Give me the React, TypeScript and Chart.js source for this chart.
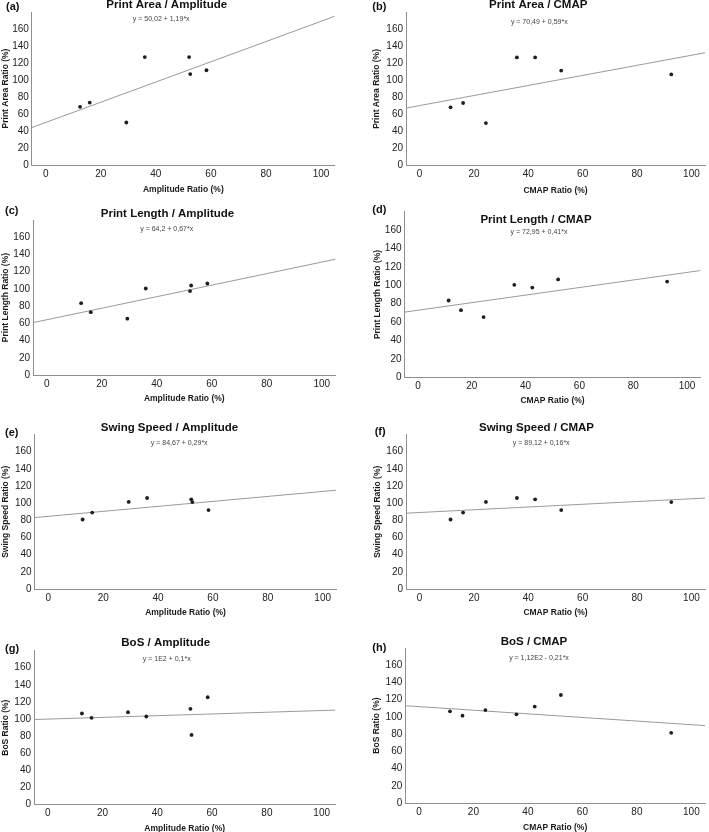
import React, { useEffect, useRef } from "react";
import { Chart, registerables } from "chart.js";

Chart.register(...registerables);

// ---------- data ----------
const panelLabels = ["(a)", "(b)", "(c)", "(d)", "(e)", "(f)", "(g)", "(h)"];
const panelTitles = [
  "Print Area / Amplitude",
  "Print Area / CMAP",
  "Print Length / Amplitude",
  "Print Length / CMAP",
  "Swing Speed / Amplitude",
  "Swing Speed / CMAP",
  "BoS / Amplitude",
  "BoS / CMAP",
];
const xAxisTitles = [
  "Amplitude Ratio (%)",
  "CMAP Ratio (%)",
  "Amplitude Ratio (%)",
  "CMAP Ratio (%)",
  "Amplitude Ratio (%)",
  "CMAP Ratio (%)",
  "Amplitude Ratio (%)",
  "CMAP Ratio (%)",
];
const yAxisTitles = [
  "Print Area Ratio (%)",
  "Print Area Ratio (%)",
  "Print Length Ratio (%)",
  "Print Length Ratio (%)",
  "Swing Speed Ratio (%)",
  "Swing Speed Ratio (%)",
  "BoS Ratio (%)",
  "BoS Ratio (%)",
];
const equations = [
  "y = 50,02 + 1,19*x",
  "y = 70,49 + 0,59*x",
  "y = 64,2 + 0,67*x",
  "y = 72,95 + 0,41*x",
  "y = 84,67 + 0,29*x",
  "y = 89,12 + 0,16*x",
  "y = 1E2 + 0,1*x",
  "y = 1,12E2 - 0,21*x",
];
const intercepts = [50.02, 70.49, 64.2, 72.95, 84.67, 89.12, 100, 112];
const slopes = [1.19, 0.59, 0.67, 0.41, 0.29, 0.16, 0.1, -0.21];

// one entry per subject
const amplitudeRatio = [12.5, 16, 29.3, 36, 52.1, 52.5, 58.4];
const cmapRatio = [11.4, 16, 24.4, 35.8, 42.5, 92.6, 52.1];
const printAreaRatio = [68.5, 73.5, 50, 127, 127, 107, 111.5];
const printLengthRatio = [83.5, 73, 65.5, 100.5, 97.5, 104, 106.3];
const swingSpeedRatio = [81, 89, 101.5, 106, 104.5, 101.3, 92];
const bosRatio = [106.5, 101.5, 108, 103, 112, 81.5, 125.5];

const xTickValues = [0, 20, 40, 60, 80, 100];
const yTickValues = [0, 20, 40, 60, 80, 100, 120, 140, 160];
const xMin = -5;
const xMax = 105;
const yMin = 0;
const yMax = 180;

const panelX = [amplitudeRatio, cmapRatio, amplitudeRatio, cmapRatio, amplitudeRatio, cmapRatio, amplitudeRatio, cmapRatio];
const panelY = [printAreaRatio, printAreaRatio, printLengthRatio, printLengthRatio, swingSpeedRatio, swingSpeedRatio, bosRatio, bosRatio];

// ---------- layout (page pixels) ----------
type Spec = {
  left: number; top: number; width: number;
  chartLeft: number; chartRight: number; chartTop: number; chartBottom: number;
  yTitleX: number; xTitleY: number;
  titleX: number; titleY: number; labelX: number; labelY: number; eqX: number; eqY: number;
};
const layouts: Spec[] = [
  { left: 0, top: 0, width: 354, chartLeft: 31.9, chartRight: 334.8, chartTop: 12, chartBottom: 165, yTitleX: 5.2, xTitleY: 189, titleX: 166.7, titleY: 5, labelX: 6, labelY: 7.2, eqX: 161.2, eqY: 19 },
  { left: 354, top: 0, width: 355, chartLeft: 406, chartRight: 708.5, chartTop: 12.2, chartBottom: 165.7, yTitleX: 376.7, xTitleY: 190, titleX: 538.2, titleY: 5, labelX: 372.3, labelY: 7.2, eqX: 539.3, eqY: 22 },
  { left: 0, top: 198, width: 354, chartLeft: 33, chartRight: 335.5, chartTop: 220.1, chartBottom: 375, yTitleX: 5.2, xTitleY: 398.3, titleX: 167.5, titleY: 214, labelX: 5, labelY: 210.8, eqX: 166.7, eqY: 229.3 },
  { left: 354, top: 198, width: 355, chartLeft: 404.5, chartRight: 700.5, chartTop: 211.5, chartBottom: 377.5, yTitleX: 377.3, xTitleY: 400, titleX: 536, titleY: 219.7, labelX: 372.3, labelY: 210.2, eqX: 539, eqY: 232.3 },
  { left: 0, top: 408, width: 354, chartLeft: 34.6, chartRight: 336.4, chartTop: 434.5, chartBottom: 589, yTitleX: 6, xTitleY: 612.3, titleX: 169.5, titleY: 427.8, labelX: 5, labelY: 433, eqX: 179.2, eqY: 442.7 },
  { left: 354, top: 408, width: 355, chartLeft: 406, chartRight: 708.5, chartTop: 434.5, chartBottom: 589, yTitleX: 377.3, xTitleY: 612.3, titleX: 536.5, titleY: 427.8, labelX: 374.7, labelY: 432.2, eqX: 541.2, eqY: 442.7 },
  { left: 0, top: 615, width: 354, chartLeft: 34, chartRight: 335.4, chartTop: 650.6, chartBottom: 804.7, yTitleX: 5.2, xTitleY: 828, titleX: 165.7, titleY: 643.3, labelX: 5, labelY: 649.2, eqX: 166.7, eqY: 659.3 },
  { left: 354, top: 615, width: 355, chartLeft: 405.3, chartRight: 707, chartTop: 648.1, chartBottom: 803, yTitleX: 376.7, xTitleY: 827.7, titleX: 534, titleY: 642, labelX: 372.3, labelY: 648.2, eqX: 539, eqY: 657.7 },
];

const FONT = '"Liberation Sans", Arial, Helvetica, sans-serif';
const AXIS_TITLE_SIZE = 8.5;
const LH = AXIS_TITLE_SIZE * 1.2;

function canvasHeight(s: Spec) {
  return Math.ceil(s.xTitleY + LH / 2 - s.top);
}

function Panel({ idx }: { idx: number }) {
  const ref = useRef<HTMLCanvasElement>(null);
  const s = layouts[idx];
  const H = canvasHeight(s);

  useEffect(() => {
    if (!ref.current) return;
    const padLeft = Math.max(0, s.yTitleX - s.left - LH / 2);
    const yAxisW = s.chartLeft - s.left - padLeft;
    const padRight = Math.max(0, s.left + s.width - s.chartRight);
    const padTop = s.chartTop - s.top;
    const xAxisH = H - (s.chartBottom - s.top);

    const a = intercepts[idx];
    const b = slopes[idx];
    const xs = panelX[idx];
    const ys = panelY[idx];

    const textPlugin = {
      id: "panelText" + idx,
      afterDraw(chart: any) {
        const ctx = chart.ctx as CanvasRenderingContext2D;
        ctx.save();
        ctx.fillStyle = "#111";
        ctx.textBaseline = "middle";
        ctx.font = `bold 11.5px ${FONT}`;
        ctx.textAlign = "center";
        ctx.fillText(panelTitles[idx], s.titleX - s.left, s.titleY - s.top);
        ctx.font = `bold 11px ${FONT}`;
        ctx.textAlign = "left";
        ctx.fillText(panelLabels[idx], s.labelX - s.left, s.labelY - s.top);
        ctx.font = `7px ${FONT}`;
        ctx.fillStyle = "#444";
        ctx.textAlign = "center";
        ctx.fillText(equations[idx], s.eqX - s.left, s.eqY - s.top);
        ctx.restore();
      },
    };

    const chart = new Chart(ref.current, {
      type: "scatter",
      data: {
        datasets: [
          {
            type: "line",
            data: [
              { x: xMin, y: a + b * xMin },
              { x: xMax, y: a + b * xMax },
            ],
            borderColor: "#9a9a9a",
            borderWidth: 1,
            pointRadius: 0,
            fill: false,
            order: 2,
          } as any,
          {
            type: "scatter",
            data: xs.map((x, i) => ({ x, y: ys[i] })),
            backgroundColor: "#1e1e1e",
            borderColor: "#1e1e1e",
            borderWidth: 0,
            pointRadius: 1.9,
            order: 1,
          },
        ],
      },
      options: {
        animation: false,
        responsive: false,
        devicePixelRatio: 1,
        layout: { padding: { left: padLeft, right: padRight, top: padTop, bottom: 0 } },
        plugins: { legend: { display: false }, tooltip: { enabled: false }, title: { display: false } },
        scales: {
          x: {
            type: "linear",
            min: xMin,
            max: xMax,
            afterBuildTicks: (sc: any) => {
              sc.ticks = xTickValues.map((v) => ({ value: v }));
            },
            afterFit: (sc: any) => {
              sc.height = xAxisH;
            },
            grid: { display: false, drawTicks: false },
            border: { display: true, color: "#8f8f8f", width: 1 },
            ticks: { padding: 3, color: "#222", font: { family: FONT, size: 10 } },
            title: {
              display: true,
              text: xAxisTitles[idx],
              color: "#1a1a1a",
              padding: 0,
              font: { family: FONT, size: AXIS_TITLE_SIZE, weight: "bold" },
            },
          },
          y: {
            type: "linear",
            min: yMin,
            max: yMax,
            afterBuildTicks: (sc: any) => {
              sc.ticks = yTickValues.map((v) => ({ value: v }));
            },
            afterFit: (sc: any) => {
              sc.width = yAxisW;
            },
            grid: { display: false, drawTicks: false },
            border: { display: true, color: "#8f8f8f", width: 1 },
            ticks: { padding: 3, color: "#222", font: { family: FONT, size: 10 } },
            title: {
              display: true,
              text: yAxisTitles[idx],
              color: "#1a1a1a",
              padding: 0,
              font: { family: FONT, size: AXIS_TITLE_SIZE, weight: "bold" },
            },
          },
        },
      } as any,
      plugins: [textPlugin],
    });
    return () => chart.destroy();
  }, [idx]);

  return (
    <canvas
      ref={ref}
      width={s.width}
      height={H}
      style={{ position: "absolute", left: s.left, top: s.top, width: s.width, height: H }}
    />
  );
}

export default function App() {
  return (
    <div
      style={{
        position: "fixed",
        left: 0,
        top: 0,
        width: 709,
        height: 832,
        overflow: "hidden",
        background: "#fff",
      }}
    >
      {layouts.map((_, i) => (
        <Panel key={i} idx={i} />
      ))}
    </div>
  );
}
